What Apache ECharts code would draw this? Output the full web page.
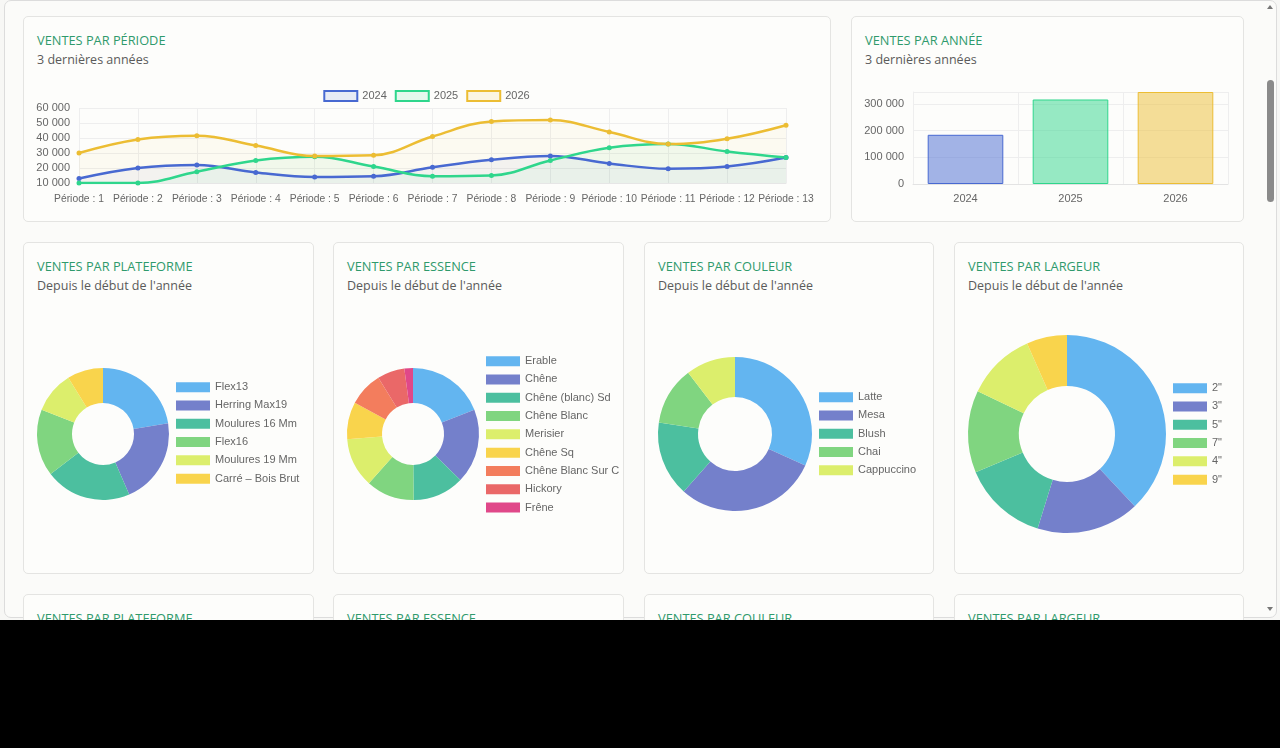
<!DOCTYPE html>
<html>
<head>
<meta charset="utf-8">
<script src="https://cdn.jsdelivr.net/npm/echarts@6/dist/echarts.min.js"></script>
<style>
  html, body { margin: 0; padding: 0; background: #000; }
  body { width: 1280px; height: 748px; position: relative; overflow: hidden; }
  #ecran { position: absolute; left: 0; top: 0; width: 1280px; height: 620px; background: #f7f7f5; overflow: hidden; }
  #cadre { position: absolute; left: 4px; top: 0; width: 1273px; height: 618px; border: 1px solid #dcdcdc; border-radius: 7px; background: #fbfbf9; box-sizing: border-box; }
  .card { position: absolute; box-sizing: border-box; border: 1px solid #e4e4e2; border-radius: 5px; background: #fdfdfb; padding: 14px 13px; }
  .t { font-family: "Open Sans", sans-serif; font-size: 12.8px; line-height: 19px; color: #2f9a6c; }
  .s { font-family: "Open Sans", sans-serif; font-size: 12.5px; line-height: 20px; color: #5a5a5a; }
  .ch { position: absolute; }
  #scroll { position: absolute; left: 1263px; top: 1px; width: 14px; height: 614px; }
  #thumb { position: absolute; left: 4px; top: 79px; width: 7px; height: 122px; border-radius: 4px; background: #8a8a8a; }
  .fl { position: absolute; left: 4px; width: 0; height: 0; border-left: 3px solid transparent; border-right: 3px solid transparent; }
  #haut { top: 4px; border-bottom: 4px solid #777; }
  #bas { top: 606px; border-top: 4px solid #777; }
</style>
</head>
<body>
<div id="ecran">
  <div id="cadre"></div>

  <div class="card" style="left:23px;top:16px;width:808px;height:206px"><div class="t">VENTES PAR PÉRIODE</div><div class="s">3 dernières années</div></div>
  <div class="card" style="left:851px;top:16px;width:393px;height:206px"><div class="t">VENTES PAR ANNÉE</div><div class="s">3 dernières années</div></div>

  <div class="card" style="left:23px;top:242px;width:291px;height:332px"><div class="t">VENTES PAR PLATEFORME</div><div class="s">Depuis le début de l'année</div></div>
  <div class="card" style="left:333px;top:242px;width:291px;height:332px"><div class="t">VENTES PAR ESSENCE</div><div class="s">Depuis le début de l'année</div></div>
  <div class="card" style="left:644px;top:242px;width:290px;height:332px"><div class="t">VENTES PAR COULEUR</div><div class="s">Depuis le début de l'année</div></div>
  <div class="card" style="left:954px;top:242px;width:290px;height:332px"><div class="t">VENTES PAR LARGEUR</div><div class="s">Depuis le début de l'année</div></div>

  <div class="card" style="left:23px;top:594px;width:291px;height:200px"><div class="t">VENTES PAR PLATEFORME</div></div>
  <div class="card" style="left:333px;top:594px;width:291px;height:200px"><div class="t">VENTES PAR ESSENCE</div></div>
  <div class="card" style="left:644px;top:594px;width:290px;height:200px"><div class="t">VENTES PAR COULEUR</div></div>
  <div class="card" style="left:954px;top:594px;width:290px;height:200px"><div class="t">VENTES PAR LARGEUR</div></div>

  <div id="periode" class="ch" style="left:23px;top:80px;width:807px;height:135px"></div>
  <div id="annee" class="ch" style="left:851px;top:80px;width:392px;height:135px"></div>
  <div id="plateforme" class="ch" style="left:24px;top:300px;width:288px;height:270px"></div>
  <div id="essence" class="ch" style="left:334px;top:300px;width:288px;height:270px"></div>
  <div id="couleur" class="ch" style="left:645px;top:300px;width:287px;height:270px"></div>
  <div id="largeur" class="ch" style="left:955px;top:300px;width:287px;height:270px"></div>

  <div id="scroll"><div id="haut" class="fl"></div><div id="thumb"></div><div id="bas" class="fl"></div></div>
</div>

<script>
// données
const periodes = ['Période : 1', 'Période : 2', 'Période : 3', 'Période : 4', 'Période : 5', 'Période : 6', 'Période : 7',
  'Période : 8', 'Période : 9', 'Période : 10', 'Période : 11', 'Période : 12', 'Période : 13'];
const ventes2024 = [13000, 20000, 22000, 17000, 14000, 14500, 20500, 25500, 28000, 23000, 19500, 21000, 27000];
const ventes2025 = [10000, 10000, 17500, 25000, 27500, 21000, 14500, 15000, 25000, 33500, 36000, 31000, 27000];
const ventes2026 = [30000, 39000, 41500, 35000, 28000, 28500, 41000, 51000, 52000, 44000, 36000, 39500, 48500];

const annees = ['2024', '2025', '2026'];
const totalAnnees = [184000, 316000, 344000];

const plateformes = ['Flex13', 'Herring Max19', 'Moulures 16 Mm', 'Flex16', 'Moulures 19 Mm', 'Carré – Bois Brut'];
const ventesPlateforme = [22.4, 21.1, 21.1, 16.4, 10.2, 8.8];

const essences = ['Erable', 'Chêne', 'Chêne (blanc) Sd', 'Chêne Blanc', 'Merisier', 'Chêne Sq', 'Chêne Blanc Sur C', 'Hickory', 'Frêne'];
const ventesEssence = [19.0, 18.3, 12.6, 11.8, 12.1, 9.1, 8.4, 6.7, 2.1];

const couleurs = ['Latte', 'Mesa', 'Blush', 'Chai', 'Cappuccino'];
const ventesCouleur = [31.7, 29.9, 15.8, 12.2, 10.4];

const largeurs = ['2"', '3"', '5"', '7"', '4"', '9"'];
const ventesLargeur = [38.0, 16.8, 13.9, 13.4, 11.3, 6.6];

const couleursAnnee = ['#4869d1', '#2fd68c', '#ecbd33'];
const palette = ['#63b5f0', '#7480cb', '#4cbf9f', '#80d580', '#dcee6c', '#f9d44c', '#f37d5d', '#ea6868', '#e04889'];
const police = 'Liberation Sans, Arial, sans-serif';

function milliers(v) {
  return String(v).replace(/\B(?=(\d{3})+(?!\d))/g, ' ');
}

function alpha(hex, a) {
  var r = parseInt(hex.slice(1, 3), 16), g = parseInt(hex.slice(3, 5), 16), b = parseInt(hex.slice(5, 7), 16);
  return 'rgba(' + r + ',' + g + ',' + b + ',' + a + ')';
}

// ventes par période
var chartPeriode = echarts.init(document.getElementById('periode'));
var seriesPeriode = [ventes2024, ventes2025, ventes2026].map(function (d, i) {
  return {
    name: annees[i],
    type: 'line',
    data: d,
    smooth: 0.4,
    symbol: 'circle',
    symbolSize: 5,
    lineStyle: { width: 2.5, color: couleursAnnee[i] },
    itemStyle: { color: couleursAnnee[i] },
    areaStyle: { color: alpha(couleursAnnee[i], 0.07) }
  };
});
chartPeriode.setOption({
  animation: false,
  textStyle: { fontFamily: police },
  legend: {
    top: 5,
    left: 'center',
    icon: 'rect',
    itemWidth: 33,
    itemHeight: 10,
    itemGap: 8,
    textStyle: { fontSize: 11, color: '#666' },
    data: annees.map(function (a, i) {
      return { name: a, itemStyle: { color: alpha(couleursAnnee[i], 0.12), borderColor: couleursAnnee[i], borderWidth: 2 } };
    })
  },
  grid: { left: 56, right: 44, top: 28, bottom: 32 },
  xAxis: {
    type: 'category',
    data: periodes,
    boundaryGap: false,
    axisLine: { lineStyle: { color: '#e6e6e6' } },
    axisTick: { show: false },
    splitLine: { show: true, lineStyle: { color: '#eeeeee' } },
    axisLabel: { fontSize: 10.3, color: '#666', margin: 11, interval: 0 }
  },
  yAxis: {
    type: 'value',
    min: 10000,
    max: 60000,
    interval: 10000,
    axisLine: { show: false },
    axisTick: { show: false },
    splitLine: { lineStyle: { color: '#eeeeee' } },
    axisLabel: { fontSize: 11, color: '#666', margin: 9, formatter: milliers }
  },
  series: seriesPeriode
});

// ventes par année
var chartAnnee = echarts.init(document.getElementById('annee'));
chartAnnee.setOption({
  animation: false,
  textStyle: { fontFamily: police },
  grid: { left: 62, right: 15, top: 12, bottom: 31 },
  xAxis: {
    type: 'category',
    data: annees,
    axisLine: { lineStyle: { color: '#e3e3e3' } },
    axisTick: { show: false },
    splitLine: { show: true, lineStyle: { color: '#eeeeee' } },
    axisLabel: { fontSize: 11, color: '#666', margin: 9 }
  },
  yAxis: {
    type: 'value',
    min: 0,
    max: 'dataMax',
    interval: 100000,
    axisLine: { show: true, lineStyle: { color: '#eeeeee' } },
    axisTick: { show: false },
    splitLine: { lineStyle: { color: '#eeeeee' } },
    axisLabel: { fontSize: 11, color: '#666', margin: 9, formatter: milliers, showMaxLabel: false }
  },
  series: [{
    type: 'bar',
    barCategoryGap: '28%',
    data: totalAnnees.map(function (v, i) {
      return { value: v, itemStyle: { color: alpha(couleursAnnee[i], 0.5), borderColor: couleursAnnee[i], borderWidth: 1 } };
    })
  }]
});

// anneaux
function anneau(id, noms, valeurs, centre, rayons, legendeLeft, legendeTop) {
  var c = echarts.init(document.getElementById(id));
  c.setOption({
    animation: false,
    color: palette,
    textStyle: { fontFamily: police },
    legend: {
      orient: 'vertical',
      left: legendeLeft,
      top: legendeTop,
      icon: 'rect',
      itemWidth: 34,
      itemHeight: 10,
      itemGap: 0,
      textStyle: { fontSize: 11, color: '#666', lineHeight: 18.3 },
      data: noms
    },
    series: [{
      type: 'pie',
      center: centre,
      radius: rayons,
      startAngle: 90,
      label: { show: false },
      labelLine: { show: false },
      itemStyle: { borderWidth: 0 },
      data: noms.map(function (n, i) { return { name: n, value: valeurs[i] }; })
    }]
  });
}

anneau('plateforme', plateformes, ventesPlateforme, [79, 134], [31, 66], 147, 73);
anneau('essence', essences, ventesEssence, [79, 134], [31, 66], 147, 47);
anneau('couleur', couleurs, ventesCouleur, [90, 134], [37, 77], 169, 83);
anneau('largeur', largeurs, ventesLargeur, [112, 134], [48, 99], 213, 74);
</script>
</body>
</html>
